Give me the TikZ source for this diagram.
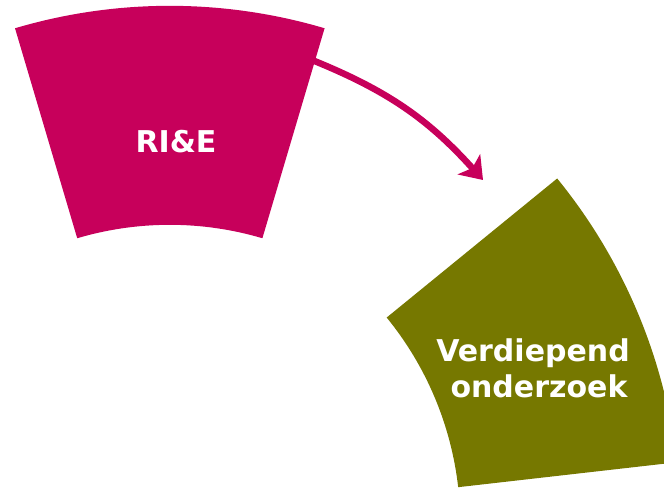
\documentclass[tikz,border=0pt]{standalone}
\usepackage{fontspec}
\newfontfamily\labfont{DejaVu Sans}
\usetikzlibrary{arrows.meta,calc}
\definecolor{magentaseg}{RGB}{199,0,91}
\definecolor{oliveseg}{RGB}{118,120,0}
\begin{document}
\begin{tikzpicture}[x=1pt,y=1pt,
  lab/.style={text=white,font=\labfont\bfseries\fontsize{30}{36}\selectfont,inner sep=0pt,anchor=base},
  flow/.style={draw=magentaseg,line width=6.5pt,-{Stealth[length=21pt,width=30pt,inset=5pt]}}]
\useasboundingbox (0,0) rectangle (664,489);
% magenta segment
\coordinate (mc) at (169.8,-61.8);
\fill[magentaseg] ([shift={(mc)}]73.5:545) arc[start angle=73.5,end angle=106.5,radius=545]
  -- ([shift={(mc)}]106.5:326) arc[start angle=106.5,end angle=73.5,radius=326] -- cycle;
% olive segment
\coordinate (oc) at (133.3,-35.2);
\begin{scope}
\clip (0,0) rectangle (664,489);
\fill[oliveseg] ([shift={(oc)}]6.5:547) arc[start angle=6.5,end angle=39.2,radius=547]
  -- ([shift={(oc)}]39.2:327) arc[start angle=39.2,end angle=6.5,radius=327] -- cycle;
\end{scope}
\node[lab] (rie) at (176,336) {RI\&E};
\node[lab] (verd) at (533,127) {Verdiepend};
\node[lab] (onder) at (539,91) {onderzoek};
\coordinate (astart) at (312,429);
\coordinate (aend) at (483,309);
\draw[flow] (astart) to[bend left=13] (aend);
\end{tikzpicture}
\end{document}
